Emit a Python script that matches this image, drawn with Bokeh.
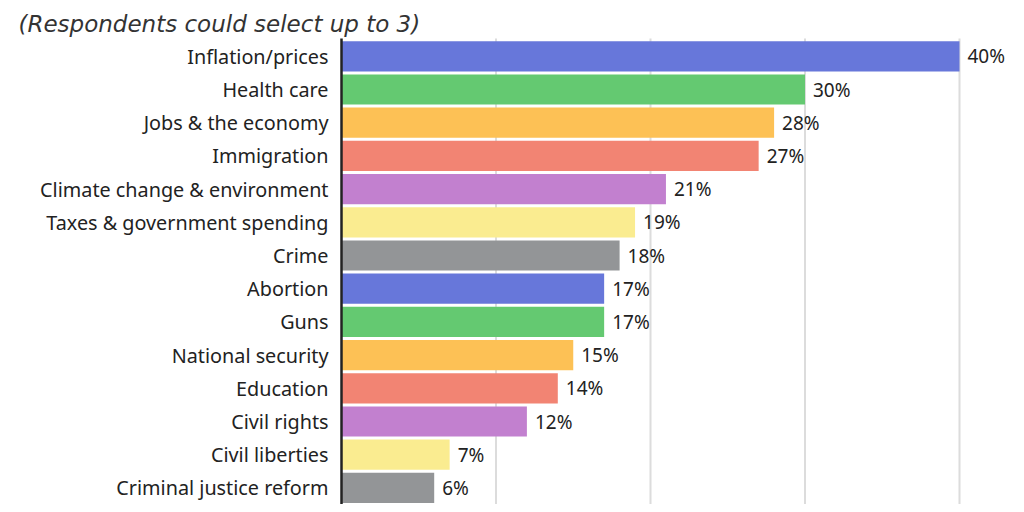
from bokeh.plotting import figure
from bokeh.models import Range1d, Label
from bokeh.core.properties import value
from bokeh.embed import file_html
from bokeh.resources import INLINE

categories = [
    "Inflation/prices", "Health care", "Jobs & the economy", "Immigration",
    "Climate change & environment", "Taxes & government spending", "Crime",
    "Abortion", "Guns", "National security", "Education", "Civil rights",
    "Civil liberties", "Criminal justice reform",
]
values = [40, 30, 28, 27, 21, 19, 18, 17, 17, 15, 14, 12, 7, 6]
palette = ["#6777DA", "#64C971", "#FDC155", "#F28473", "#C280CF", "#FAEC90", "#939597"]
colors = [palette[i % len(palette)] for i in range(len(categories))]
value_labels = [f"{v}%" for v in values]
subtitle = "(Respondents could select up to 3)"
grid_ticks = [10, 20, 30, 40]

W, H = 1008, 504
px_per = 15.45
zero_px = 341
row_h = 33.2
first_center = 55.8

x_start = -zero_px / px_per
x_end = (W - zero_px) / px_per
y_top = -first_center / row_h
y_bottom = (H - first_center) / row_h

FONT = "Noto Sans"

p = figure(width=W, height=H, output_backend="svg", toolbar_location=None,
           x_range=Range1d(x_start, x_end), y_range=Range1d(y_bottom, y_top),
           min_border=0)
p.axis.visible = False
p.grid.visible = False
p.outline_line_color = None
p.background_fill_color = "white"
p.border_fill_color = "white"

idx = list(range(len(categories)))
axis_top = y_top + 38 / row_h

# gridlines
p.segment(x0=grid_ticks, x1=grid_ticks, y0=[axis_top] * len(grid_ticks),
          y1=[y_bottom] * len(grid_ticks), line_color="#dcdcdc", line_width=2)

# bars
p.hbar(y=idx, left=0, right=values, height=0.91, fill_color=colors, line_color=None)

# axis line
p.segment(x0=[0], x1=[0], y0=[axis_top], y1=[y_bottom], line_color="#222222", line_width=2.5)

# category labels
p.text(x=[0] * len(categories), y=idx, text=categories, x_offset=-13,
       text_align="right", text_baseline="middle", text_font=value(FONT),
       text_font_size="19.8px", text_color="#222222")

# value labels
p.text(x=values, y=idx, text=value_labels, x_offset=8,
       text_align="left", text_baseline="middle", text_font=value(FONT),
       text_font_size="19px", text_color="#222222")

p.add_layout(Label(x=x_start + 18 / px_per, y=y_top + 23 / row_h, text=subtitle,
                   text_font="DejaVu Sans", text_font_style="italic", text_font_size="23px",
                   text_color="#333333", text_baseline="alphabetic"))

open("out.html", "w").write(file_html(p, INLINE))
